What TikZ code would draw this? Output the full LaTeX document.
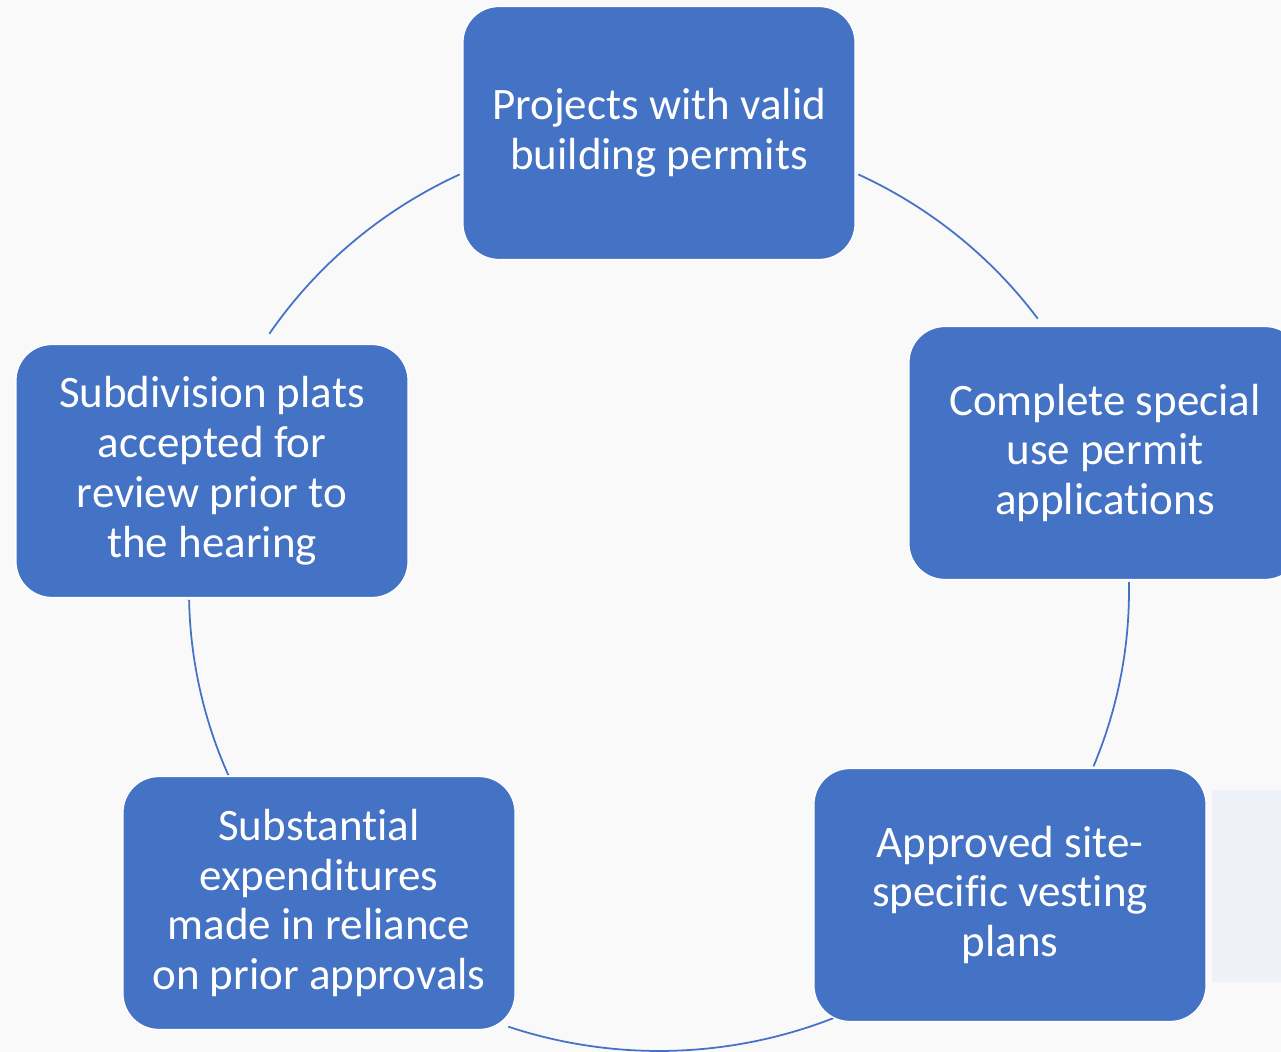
\documentclass[tikz,border=0pt]{standalone}
\usepackage{fontspec}
\setmainfont{Carlito}[RawFeature={-liga;-clig}]
\definecolor{boxblue}{HTML}{4472C4}
\definecolor{bgwhite}{HTML}{F9F9FA}
\definecolor{bgblue}{HTML}{EEF2F8}

\begin{document}
\begin{tikzpicture}[x=0.01cm,y=0.01cm,
		stagebox/.style={draw=white, line width=0.4pt, fill=boxblue, rounded corners=0.36cm,
			minimum width=3.92cm, minimum height=2.53cm, inner sep=0pt, text=white,
			align=center, font=\fontsize{12.8}{14.2}\selectfont},
		ring/.style={draw=boxblue, line width=0.5pt}]
				\useasboundingbox (0,0) rectangle (1281,-1052);
				\clip (0,0) rectangle (1281,-1052);
				\fill[bgwhite] (0,0) rectangle (1281,-1052);
				\fill[bgblue] (1212,-790) rectangle (1281,-982);
				
				\coordinate (hub) at (659,-591);
				
				\draw[ring] (hub) ++(64.9:470 and 460) arc (64.9:36.3:470 and 460);
				\draw[ring] (hub) ++(1.1:470 and 460) arc (1.1:-22.4:470 and 460);
				\draw[ring] (hub) ++(-67.7:470 and 460) arc (-67.7:-108.7:470 and 460);
				\draw[ring] (hub) ++(203.6:470 and 460) arc (203.6:181.1:470 and 460);
				\draw[ring] (hub) ++(146.0:470 and 460) arc (146.0:115.1:470 and 460);
				
				\node[stagebox] (permits) at (659,-133) {Projects with valid\\building permits};
				\node[stagebox] (special) at (1105,-453) {Complete special\\use permit\\applications};
				\node[stagebox] (vesting) at (1010,-895) {Approved site-\\specific vesting\\plans};
				\node[stagebox] (expend) at (319,-903) {Substantial\\expenditures\\made in reliance\\on prior approvals};
				\node[stagebox] (plats) at (212,-471) {Subdivision plats\\accepted for\\review prior to\\the hearing};
			\end{tikzpicture}
\end{document}
